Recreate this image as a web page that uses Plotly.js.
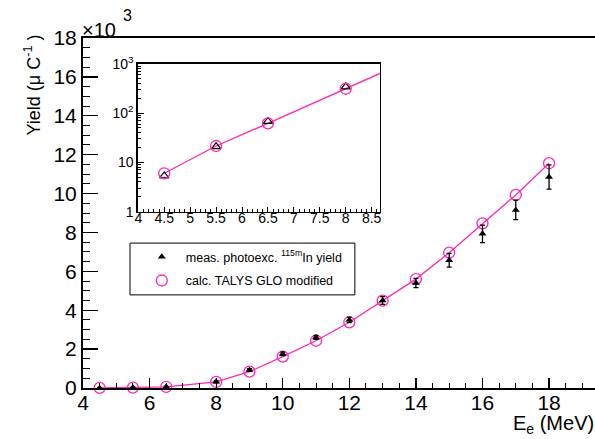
<!DOCTYPE html>
<html>
<head>
<meta charset="utf-8">
<script src="https://cdn.plot.ly/plotly-3.0.1.min.js"></script>
<style>html,body{margin:0;padding:0;background:#fff;}#chart{width:595px;height:439px;}</style>
</head>
<body>
<div id="chart"></div>
<script>
// Main plot data (yield in units of 10^3 per µC)
const energies = [4.5, 5.5, 6.5, 8, 9, 10, 11, 12, 13, 14, 15, 16, 17, 18];
const measYield = [0.005, 0.021, 0.068, 0.32, 0.93, 1.75, 2.6, 3.5, 4.5, 5.4, 6.57, 7.93, 9.16, 10.85];
const measErr = [0.01, 0.01, 0.02, 0.05, 0.07, 0.09, 0.1, 0.14, 0.2, 0.24, 0.35, 0.45, 0.5, 0.62];
const calcYield = [0.006, 0.0215, 0.062, 0.31, 0.84, 1.61, 2.43, 3.38, 4.49, 5.6, 6.96, 8.47, 9.93, 11.56];

// Inset data (log scale)
const insetE = [4.5, 5.5, 6.5, 8];
const insetMeas = [5.3, 20.8, 68, 343];
const insetCalc = [6.0, 21.5, 62, 313];
const insetLineE = [4.5, 5.5, 6.5, 8, 8.66];
const insetLineY = [6.0, 21.5, 62, 313, 640];

// Tick labels
const insetYTickVals = [1, 10, 100, 1000];
const insetYTickText = ['1', '10', '10<sup>2</sup>', '10<sup>3</sup>'];

const PINK = 'rgb(255,40,180)';
const FONT = 'Liberation Sans, Arial, Helvetica, sans-serif';

const traces = [
  {x: energies, y: calcYield, mode: 'lines', line: {color: PINK, width: 1.3},
   showlegend: false, hoverinfo: 'skip', cliponaxis: false},
  {x: energies, y: calcYield, mode: 'markers', name: 'calc. TALYS GLO modified',
   marker: {symbol: 'circle-open', size: 11, color: PINK, line: {width: 1.3, color: PINK}},
   legend: 'legend2', cliponaxis: false},
  {x: energies, y: measYield, mode: 'markers', name: 'meas. photoexc. <sup>115m</sup>In yield',
   marker: {symbol: 'triangle-up', size: 7, color: 'black'},
   error_y: {type: 'data', array: measErr, color: 'black', thickness: 1.3, width: 2.5},
   legend: 'legend', cliponaxis: false},
  {x: insetLineE, y: insetLineY, xaxis: 'x2', yaxis: 'y2', mode: 'lines',
   line: {color: PINK, width: 1.3}, showlegend: false},
  {x: insetE, y: insetMeas, xaxis: 'x2', yaxis: 'y2', mode: 'markers',
   marker: {symbol: 'triangle-up-open', size: 8, color: 'black', line: {width: 1.2, color: 'black'}},
   showlegend: false},
  {x: insetE, y: insetCalc, xaxis: 'x2', yaxis: 'y2', mode: 'markers',
   marker: {symbol: 'circle-open', size: 11, color: PINK, line: {width: 1.3, color: PINK}},
   showlegend: false}
];

const layout = {
  width: 595, height: 439,
  margin: {l: 83, r: 0, t: 38, b: 51},
  paper_bgcolor: 'white', plot_bgcolor: 'white',
  font: {family: FONT, color: 'black'},
  xaxis: {
    range: [4, 19.38], showline: true, linewidth: 2, linecolor: 'black', mirror: true,
    ticks: 'inside', ticklen: 10, tickwidth: 1.3, tickcolor: 'black', dtick: 2, tick0: 0,
    tickfont: {size: 21, family: FONT}, showgrid: false, zeroline: false, ticklabelstandoff: -5,
    minor: {dtick: 0.5, ticks: 'inside', ticklen: 5, tickwidth: 1, tickcolor: 'black', showgrid: false}
  },
  yaxis: {
    range: [0, 18], showline: true, linewidth: 2, linecolor: 'black',
    ticks: 'inside', ticklen: 15, tickwidth: 1.3, tickcolor: 'black', dtick: 2, tick0: 0,
    tickfont: {size: 21, family: FONT}, showgrid: false, zeroline: false,
    minor: {dtick: 0.5, ticks: 'inside', ticklen: 7, tickwidth: 1, tickcolor: 'black', showgrid: false}
  },
  xaxis2: {
    domain: [0.107, 0.580], anchor: 'y2', range: [3.99, 8.66],
    showline: true, linewidth: 1.5, linecolor: 'black', mirror: true,
    ticks: 'inside', ticklen: 5, tickwidth: 1, tickcolor: 'black', dtick: 0.5, tick0: 0,
    tickfont: {size: 14, family: FONT}, showgrid: false, zeroline: false, ticklabelstandoff: -7,
    minor: {dtick: 0.1, ticks: 'inside', ticklen: 3, tickwidth: 1, tickcolor: 'black', showgrid: false}
  },
  yaxis2: {
    domain: [0.504, 0.926], anchor: 'x2', type: 'log', range: [0, 3],
    showline: true, linewidth: 1.5, linecolor: 'black', mirror: true,
    ticks: 'inside', ticklen: 6, tickwidth: 1, tickcolor: 'black',
    tickvals: insetYTickVals, ticktext: insetYTickText,
    tickfont: {size: 14, family: FONT}, showgrid: false, zeroline: false,
    minor: {dtick: 'D1', ticks: 'inside', ticklen: 3, tickwidth: 1, tickcolor: 'black', showgrid: false}
  },
  legend: {x: 0.107, y: 0.374, xanchor: 'left', yanchor: 'middle', bgcolor: 'rgba(0,0,0,0)',
    borderwidth: 0, itemwidth: 38, font: {size: 12.5, family: FONT}},
  legend2: {x: 0.107, y: 0.306, xanchor: 'left', yanchor: 'middle', bgcolor: 'rgba(0,0,0,0)',
    borderwidth: 0, itemwidth: 38, font: {size: 12.5, family: FONT}},
  shapes: [
    {type: 'rect', xref: 'paper', yref: 'paper', x0: 0.0918, x1: 0.531, y0: 0.266, y1: 0.414,
     line: {color: 'black', width: 1}, fillcolor: 'white', layer: 'below'}
  ],
  annotations: [
    {text: '×10', xref: 'paper', yref: 'paper', x: -0.006, y: 1.0229, xanchor: 'left', yanchor: 'middle',
     showarrow: false, font: {size: 20, family: FONT}},
    {text: '3', xref: 'paper', yref: 'paper', x: 0.0742, y: 1.0657, xanchor: 'left', yanchor: 'middle',
     showarrow: false, font: {size: 16, family: FONT}},
    {text: 'Yield (μ C<sup>-1</sup> )', xref: 'paper', yref: 'paper', x: -0.0977, y: 0.867,
     xanchor: 'center', yanchor: 'middle', textangle: -90, showarrow: false, font: {size: 18, family: FONT}},
    {text: 'E<sub>e</sub> (MeV)', xref: 'paper', yref: 'paper', x: 1, y: -0.104, xshift: 1,
     xanchor: 'right', yanchor: 'middle', showarrow: false, font: {size: 20, family: FONT}}
  ]
};

Plotly.newPlot('chart', traces, layout, {displayModeBar: false, staticPlot: true});
</script>
</body>
</html>
